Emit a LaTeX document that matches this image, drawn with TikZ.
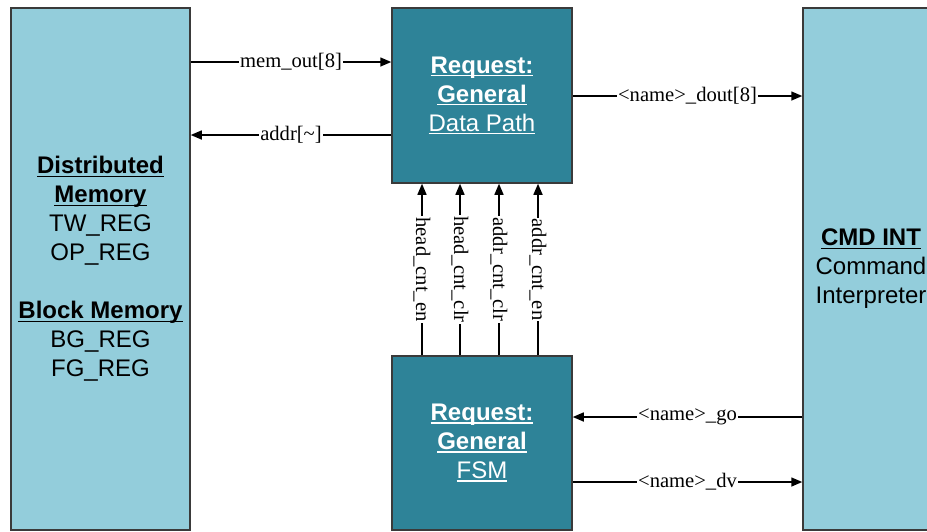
\documentclass[tikz,border=0pt]{standalone}
\usepackage{fontspec}
\setmainfont{Liberation Serif}
\newfontfamily\boxfont{Liberation Sans}
\usetikzlibrary{arrows.meta}
\definecolor{memblue}{HTML}{93CDDB}
\definecolor{blockteal}{HTML}{2E8398}
\definecolor{edgegray}{HTML}{3A3A3A}

% underline at a fixed depth below the baseline, independent of descenders
\newsavebox{\ulsave}
\newcommand{\ulbox}[1]{\sbox{\ulsave}{#1}\rlap{\rule[-3.2pt]{\wd\ulsave}{1.4pt}}\usebox{\ulsave}}

\begin{document}
\begin{tikzpicture}[x=1pt,y=-1pt,
  block/.style={draw=edgegray, line width=1.5pt, align=center, inner sep=0pt,
    font=\boxfont\fontsize{24}{29}\selectfont},
  membox/.style={block, fill=memblue, text=black},
  logicbox/.style={block, fill=blockteal, text=white},
  sig/.style={line width=1.5pt, -{Triangle[length=11pt,width=9pt]}},
  lbl/.style={fill=white, inner sep=1pt, font=\fontsize{20.6}{24}\selectfont}]
\useasboundingbox (0,0) rectangle (927,531);
\clip (0,0) rectangle (927,531);

% blocks
\node[membox, minimum width=179pt, minimum height=522pt] (mem) at (100.5,269)
  {\ulbox{\bfseries Distributed}\\\ulbox{\bfseries Memory}\\TW\_REG\\OP\_REG\\[29pt]
   \ulbox{\bfseries Block Memory}\\BG\_REG\\FG\_REG};
\node[logicbox, minimum width=180pt, minimum height=175pt] (dp) at (482,95.5)
  {\ulbox{\bfseries Request:}\\\ulbox{\bfseries General}\\\ulbox{Data Path}};
\node[logicbox, minimum width=180pt, minimum height=174pt] (fsm) at (482,443)
  {\ulbox{\bfseries Request:}\\\ulbox{\bfseries General}\\\ulbox{FSM}};
\node[membox, minimum width=136pt, minimum height=522pt] (cmd) at (871,269)
  {\ulbox{\bfseries CMD INT}\\Command\\Interpreter};

% signal rows and columns
\coordinate (rmem) at (0,62);
\coordinate (raddr) at (0,135);
\coordinate (rdout) at (0,96);
\coordinate (rgo) at (0,417);
\coordinate (rdv) at (0,482);
\coordinate (c1) at (422,0);
\coordinate (c2) at (460,0);
\coordinate (c3) at (499,0);
\coordinate (c4) at (538,0);

% horizontal signals
\draw[sig] (mem.east |- rmem) -- node[lbl]{mem\_out[8]} (dp.west |- rmem);
\draw[sig] (dp.west |- raddr) -- node[lbl]{addr[\textasciitilde]} (mem.east |- raddr);
\draw[sig] (dp.east |- rdout) -- node[lbl]{\textless name\textgreater\_dout[8]} (cmd.west |- rdout);
\draw[sig] (cmd.west |- rgo) -- node[lbl]{\textless name\textgreater\_go} (fsm.east |- rgo);
\draw[sig] (fsm.east |- rdv) -- node[lbl]{\textless name\textgreater\_dv} (cmd.west |- rdv);

% control signals from the FSM to the data path
\draw[sig] (fsm.north -| c1) -- node[lbl, rotate=-90]{head\_cnt\_en} (dp.south -| c1);
\draw[sig] (fsm.north -| c2) -- node[lbl, rotate=-90]{head\_cnt\_clr} (dp.south -| c2);
\draw[sig] (fsm.north -| c3) -- node[lbl, rotate=-90]{addr\_cnt\_clr} (dp.south -| c3);
\draw[sig] (fsm.north -| c4) -- node[lbl, rotate=-90]{addr\_cnt\_en} (dp.south -| c4);
\end{tikzpicture}
\end{document}
